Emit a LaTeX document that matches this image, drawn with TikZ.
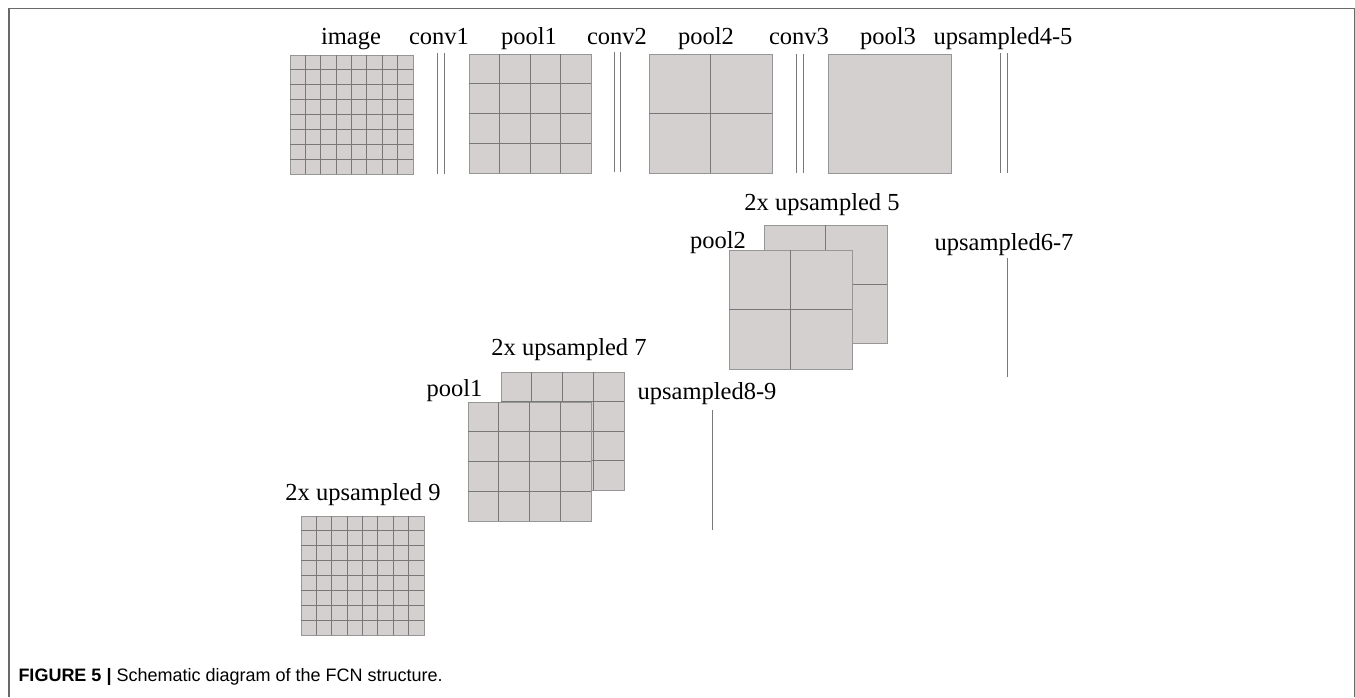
\documentclass[tikz,border=0pt]{standalone}
\usepackage{fontspec}
\setmainfont{Liberation Serif}
\newfontfamily\capfont{Liberation Sans}
\usetikzlibrary{calc}

\definecolor{mapfill}{RGB}{212,208,208}
\definecolor{gridgray}{RGB}{120,120,120}
\definecolor{boxedge}{RGB}{150,150,150}
\definecolor{framegray}{RGB}{105,105,105}

\tikzset{
  fmap/.style={draw=boxedge, fill=mapfill, line width=0.9pt, inner sep=0pt, outer sep=0pt, anchor=north west},
  cellline/.style={draw=gridgray, line width=0.8pt},
  layerline/.style={draw=gridgray, line width=1pt},
  lab/.style={font=\fontsize{24.5}{29}\selectfont, anchor=base, inner sep=0pt},
  frameline/.style={draw=framegray, line width=1.2pt},
}

% feature map: name, x1, y1, x2, y2 (top-left / bottom-right), cells per side
\newcommand\featmap[6]{%
  \node[fmap, minimum width={#4-#2}, minimum height={#5-#3}] (#1) at (#2,#3) {};
  \ifnum#6>1
    \pgfmathtruncatemacro\lastcell{#6-1}
    \foreach \k in {1,...,\lastcell} {
      \draw[cellline] ($(#1.north west)!\k/#6!(#1.north east)$) -- ($(#1.south west)!\k/#6!(#1.south east)$);
      \draw[cellline] ($(#1.north west)!\k/#6!(#1.south west)$) -- ($(#1.north east)!\k/#6!(#1.south east)$);
    }
  \fi
}

% pair of thin vertical lines standing for a layer: x, y top, y bottom
\newcommand\layerpair[3]{%
  \draw[layerline] (#1-3.3,#2) -- (#1-3.3,#3);
  \draw[layerline] (#1+3.3,#2) -- (#1+3.3,#3);
}

\begin{document}
\begin{tikzpicture}[x=1pt, y=-1pt]
  \useasboundingbox (0,0) rectangle (1355,697);

  % outer frame, open at the bottom
  \draw[frameline] (9,697) -- (9,8.5) -- (1354.3,8.5) -- (1354.3,697);

  % encoder row
  \featmap{img}{290}{55}{413}{174}{8}
  \layerpair{441}{53}{174}
  \featmap{poolA}{469}{54}{591}{173}{4}
  \layerpair{617.5}{52}{172}
  \featmap{poolB}{649}{54}{772}{173}{2}
  \layerpair{800}{54}{173}
  \featmap{poolC}{828}{54}{951}{173}{1}
  \layerpair{1004}{53}{173}

  \node[lab] (limg) at (351,44) {image};
  \node[lab] (lconvA) at (439,44) {conv1};
  \node[lab] (lpoolA) at (529,44) {pool1};
  \node[lab] (lconvB) at (617,44) {conv2};
  \node[lab] (lpoolB) at (706,44) {pool2};
  \node[lab] (lconvC) at (799,44) {conv3};
  \node[lab] (lpoolC) at (888,44) {pool3};
  \node[lab] (lupA) at (1003,44) {upsampled4-5};

  % first fusion: 2x upsampled 5 behind pool2
  \featmap{upB}{764}{225}{887}{343}{2}
  \featmap{skipB}{729}{250}{852}{369}{2}
  \node[lab] (lupB) at (822,210.5) {2x upsampled 5};
  \node[lab] (lskipB) at (718,248) {pool2};
  \node[lab] (lupC) at (1004,250) {upsampled6-7};
  \coordinate (upCtop) at (1007,258);
  \coordinate (upCbot) at (1007,377);
  \draw[layerline] (upCtop) -- (upCbot);

  % second fusion: 2x upsampled 7 behind pool1
  \featmap{upD}{501}{372}{624}{490}{4}
  \featmap{skipA}{468}{402}{591}{521}{4}
  \node[lab] (lupD) at (569,355) {2x upsampled 7};
  \node[lab] (lskipA) at (454.5,396) {pool1};
  \node[lab] (lupE) at (707,399) {upsampled8-9};
  \coordinate (upEtop) at (712,410);
  \coordinate (upEbot) at (712,530);
  \draw[layerline] (upEtop) -- (upEbot);

  % final output
  \featmap{outmap}{301}{516}{424}{635}{8}
  \node[lab] (lout) at (363,500) {2x upsampled 9};

  % caption
  \node[anchor=base west, inner sep=0pt, font=\capfont\fontsize{18}{21}\selectfont] (cap) at (18.3,681.5)
    {\textbf{FIGURE 5 |} Schematic diagram of the FCN structure.};
\end{tikzpicture}
\end{document}
